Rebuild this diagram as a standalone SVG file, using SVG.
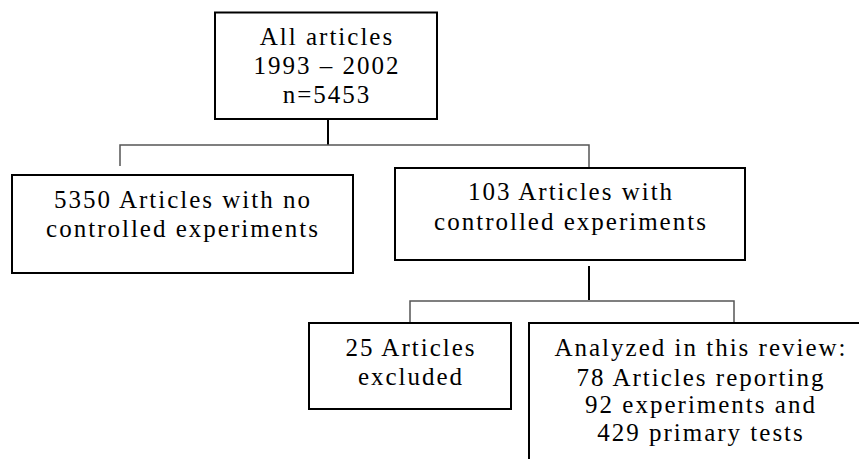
<svg xmlns="http://www.w3.org/2000/svg" width="859" height="459" viewBox="0 0 859 459">
<style>
.box{fill:#fff;stroke:#000;stroke-width:2}
.ln{fill:none;stroke:#555;stroke-width:1.5}
.stem{fill:none;stroke:#000;stroke-width:2}
.t{font-size:25px;letter-spacing:2px;text-anchor:middle;fill:#000}
</style>
<rect width="859" height="459" fill="#fff"/>
<g id="connectors">
<path class="stem" d="M328 119V145"/>
<path class="ln" d="M120 166V145H589V167"/>
<path class="stem" d="M589 266V300"/>
<path class="ln" d="M410 322V301H734V322"/>
</g>
<g class="t" font-family="'Liberation Serif', 'DejaVu Serif', serif">
<g id="all">
<rect class="box" x="215" y="12.5" width="222" height="106.5"/>
<text x="327" y="45">All articles</text>
<text x="327" y="74">1993 – 2002</text>
<text x="327" y="103">n=5453</text>
</g>
<g id="no-controlled">
<rect class="box" x="12" y="175" width="341" height="98"/>
<text x="183" y="208">5350 Articles with no</text>
<text x="183" y="237">controlled experiments</text>
</g>
<g id="controlled">
<rect class="box" x="395" y="168" width="350" height="92"/>
<text x="571" y="200">103 Articles with</text>
<text x="571" y="230">controlled experiments</text>
</g>
<g id="excluded">
<rect class="box" x="309" y="323" width="202" height="86"/>
<text x="411" y="356">25 Articles</text>
<text x="411" y="385">excluded</text>
</g>
<g id="analyzed">
<rect class="box" x="529" y="323" width="345" height="160"/>
<text x="701" y="356">Analyzed in this review:</text>
<text x="701" y="386">78 Articles reporting</text>
<text x="701" y="413">92 experiments and</text>
<text x="701" y="441">429 primary tests</text>
</g>
</g>
</svg>
